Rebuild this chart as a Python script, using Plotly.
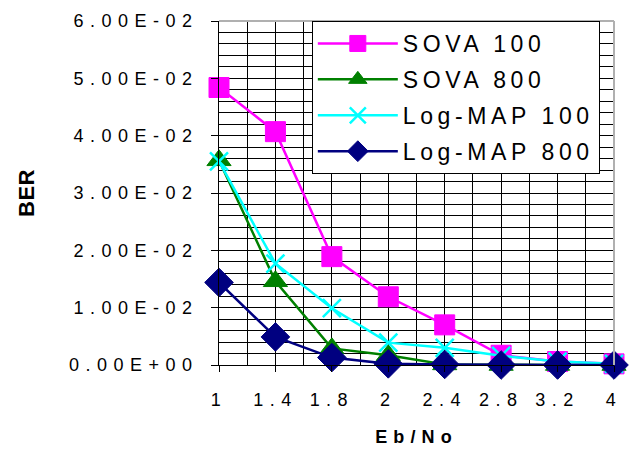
import plotly.graph_objects as go

categories = ["1", "1.4", "1.8", "2", "2.4", "2.8", "3.2", "4"]
sova_100 = [0.0484, 0.0407, 0.0189, 0.0119, 0.0070, 0.0017, 0.0006, 0.0002]
sova_800 = [0.0357, 0.0146, 0.0029, 0.0017, 0.0001, 0.0000, 0.0000, 0.0000]
logmap_100 = [0.0355, 0.0177, 0.0099, 0.0039, 0.0030, 0.0016, 0.0006, 0.0002]
logmap_800 = [0.0144, 0.0049, 0.0013, 0.0002, 0.0001, 0.0000, 0.0000, 0.0000]
y_tick_values = [0, 0.01, 0.02, 0.03, 0.04, 0.05, 0.06]
y_tick_labels = ["0.00E+00", "1.00E-02", "2.00E-02", "3.00E-02", "4.00E-02", "5.00E-02", "6.00E-02"]

FONT = "Arial, Liberation Sans, sans-serif"
xi = list(range(len(categories)))

series = [
    ("SOVA 100", sova_100, "#FF00FF", "square", 20, 1),
    ("SOVA 800", sova_800, "#008000", "triangle-up", 21, 1),
    ("Log-MAP 100", logmap_100, "#00FFFF", "x-thin", 18, 2.5),
    ("Log-MAP 800", logmap_800, "#000080", "diamond", 22, 1),
]

fig = go.Figure()
for i, (name, vals, color, sym, size, lw) in enumerate(series):
    fig.add_trace(go.Scatter(
        x=xi, y=vals, name=name, mode="lines+markers",
        legendgroup="g%d" % i,
        line=dict(color=color, width=2.5),
        marker=dict(symbol=sym, size=size, color=color,
                    line=dict(color=color, width=lw)),
        cliponaxis=False,
    ))

fig.update_layout(
    template="none",
    width=630, height=451,
    margin=dict(l=219, r=16, t=21, b=86),
    paper_bgcolor="white", plot_bgcolor="white",
    font=dict(family=FONT, color="black", size=18),
    showlegend=True,
    legend=dict(
        x=0.235, y=1, xanchor="left", yanchor="top",
        bgcolor="white", bordercolor="black", borderwidth=1,
        font=dict(size=23, family=FONT),
        itemwidth=80, tracegroupgap=3,
    ),
    xaxis=dict(
        automargin=False,
        range=[0, len(categories) - 1],
        tickvals=xi, ticktext=categories,
        tickfont=dict(size=18),
        ticks="outside", ticklen=6, tickcolor="black",
        showline=True, linecolor="black", linewidth=1,
        showgrid=True, gridcolor="black", gridwidth=1,
        minor=dict(dtick=0.5, showgrid=True, gridcolor="black", gridwidth=1),
        zeroline=False, mirror=False,
        ticklabelstandoff=12,
        title=dict(text="<b>Eb/No</b>", font=dict(size=18), standoff=21),
    ),
    yaxis=dict(
        automargin=False,
        range=[0, 0.06],
        tickvals=y_tick_values, ticktext=y_tick_labels,
        tickfont=dict(size=18),
        ticks="outside", ticklen=7, tickcolor="black",
        showline=True, linecolor="black", linewidth=1,
        showgrid=True, gridcolor="black", gridwidth=1,
        minor=dict(dtick=0.002, showgrid=True, gridcolor="black", gridwidth=1),
        zeroline=False,
        ticklabelstandoff=9,
        title=dict(text="<b>BER</b>", font=dict(size=22), standoff=80),
    ),
    shapes=[
        dict(type="line", xref="paper", yref="paper", x0=0, x1=1, y0=1, y1=1,
             line=dict(color="#b0b0b0", width=2)),
        dict(type="line", xref="paper", yref="paper", x0=1, x1=1, y0=0, y1=1,
             line=dict(color="#b0b0b0", width=2)),
    ],
)

post = """
var gd = document.getElementById('{plot_id}');
var st = document.createElement('style');
st.textContent = '.legendtext{letter-spacing:0.2em} .xtick text,.ytick text{letter-spacing:0.36em} .xtitle{letter-spacing:0.34em} .ytitle{letter-spacing:0.02em}';
document.head.appendChild(st);
Plotly.relayout(gd, {'legend.font.size': 23.01});
"""

fig.write_html("out.html", post_script=post)
